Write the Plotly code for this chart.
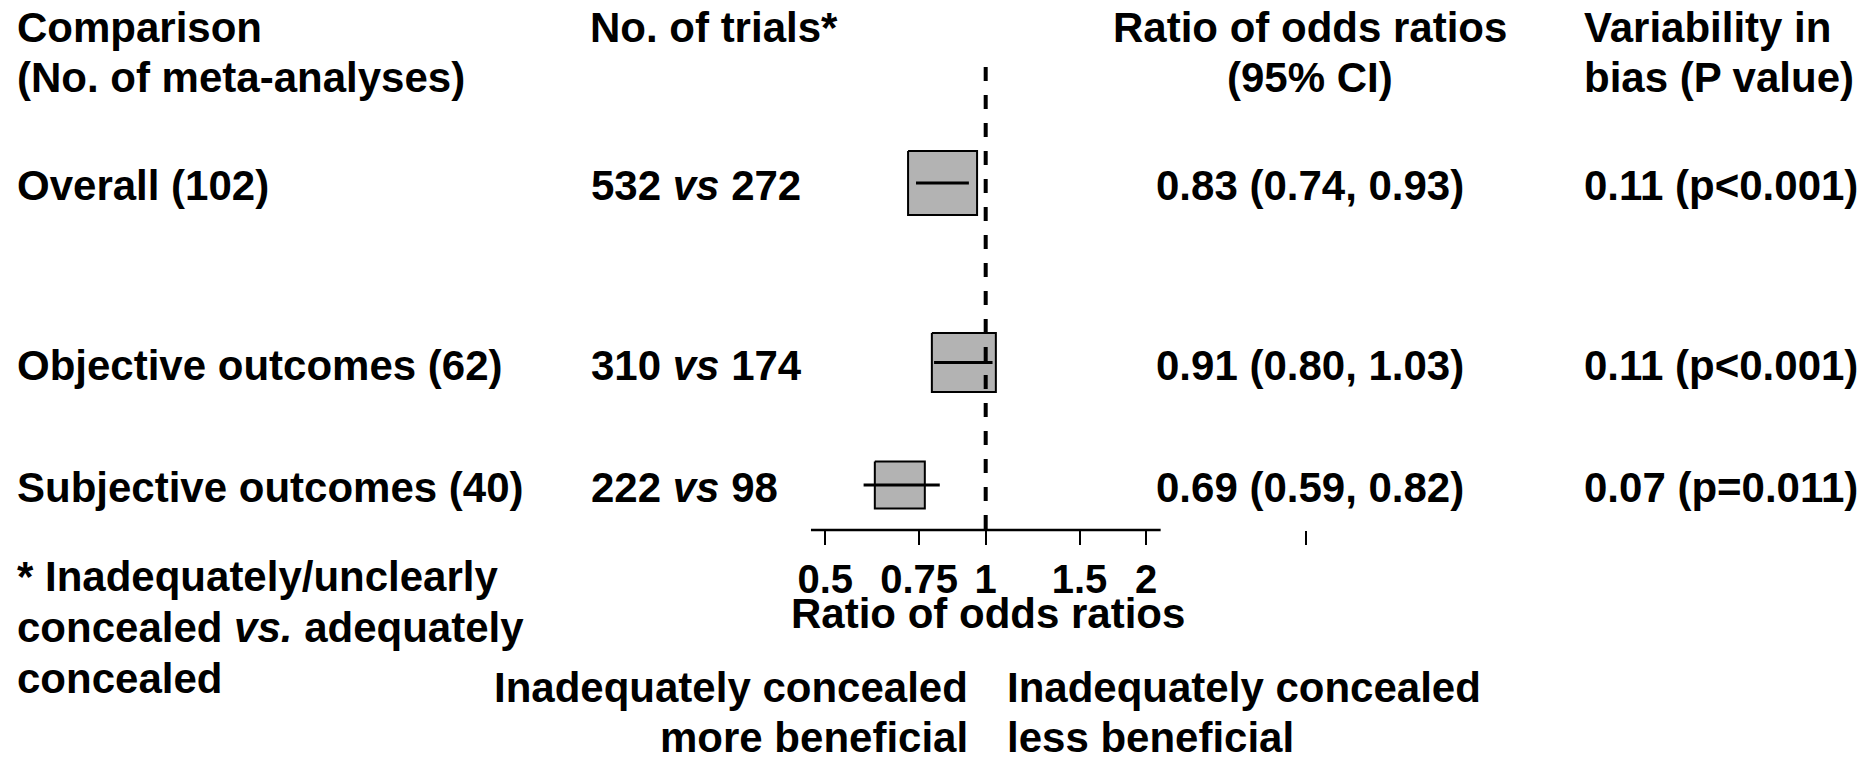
import math
import plotly.graph_objects as go

# ---------------- data ----------------
names = ["Overall", "Objective outcomes", "Subjective outcomes"]
n_meta = [102, 62, 40]
trials_inadequate = [532, 310, 222]
trials_adequate = [272, 174, 98]
ror = [0.83, 0.91, 0.69]
ci_low = [0.74, 0.80, 0.59]
ci_high = [0.93, 1.03, 0.82]
tau = [0.11, 0.11, 0.07]
p_text = ["p<0.001", "p<0.001", "p=0.011"]
tick_vals = [0.5, 0.75, 1, 1.5, 2, 4]
tick_text = ["0.5", "0.75", "1", "1.5", "2", ""]

# ---------------- layout / style ----------------
W, H = 1876, 757
FONT = "Liberation Sans, Arial, Helvetica, sans-serif"
FS = 42
row_y = [183, 362.5, 485]          # vertical centre of each row (px from top)
box_w_px = [69, 64, 50]            # box widths (px)
box_h_px = [64, 59, 47]            # box heights (px)
x_log_range = [-1.85, 1.671]       # log10 range of x axis
axis_y = 530
axis_extent = [0.47, 2.13]
dash_top = 67

px_per_ln = W / ((x_log_range[1] - x_log_range[0]) * math.log(10))

fig = go.Figure()

# boxes
for i in range(len(names)):
    hw = (box_w_px[i] / 2) / px_per_ln
    hh = box_h_px[i] / 2
    x0 = ror[i] * math.exp(-hw)
    x1 = ror[i] * math.exp(hw)
    y0 = row_y[i] - hh
    y1 = row_y[i] + hh
    fig.add_trace(go.Scatter(
        x=[x0, x1, x1, x0, x0], y=[y0, y0, y1, y1, y0],
        mode="lines", fill="toself", fillcolor="#b3b3b3",
        line=dict(color="black", width=2), hoverinfo="skip"))

# CI whiskers
for i in range(len(names)):
    fig.add_trace(go.Scatter(
        x=[ci_low[i], ci_high[i]], y=[row_y[i], row_y[i]],
        mode="lines", line=dict(color="black", width=3), hoverinfo="skip"))

# axis line
fig.add_trace(go.Scatter(
    x=axis_extent, y=[axis_y, axis_y], mode="lines",
    line=dict(color="black", width=2.5), hoverinfo="skip"))

# null line
fig.add_trace(go.Scatter(
    x=[1, 1], y=[dash_top, axis_y], mode="lines",
    line=dict(color="black", width=4, dash="14px,14px"), hoverinfo="skip"))


def ann(text, x, baseline, anchor="left", size=FS):
    fig.add_annotation(
        text=text, x=x / W, y=1 - (baseline - 0.3465 * size) / H,
        xref="paper", yref="paper", xanchor=anchor, yanchor="middle",
        showarrow=False, align=anchor if anchor != "center" else "center",
        font=dict(family=FONT, size=size, color="black", weight="bold"),
        borderpad=0)


# headers
ann("Comparison", 16, 42.5)
ann("(No. of meta-analyses)", 16, 92.5)
ann("No. of trials*", 589, 42.5)
ann("Ratio of odds ratios", 1310, 42.5, "center")
ann("(95% CI)", 1310, 92.5, "center")
ann("Variability in", 1583, 42.5)
ann("bias (P value)", 1583, 92.5)

# rows
for i in range(len(names)):
    bl = row_y[i] + 17.5
    ann(f"{names[i]} ({n_meta[i]})", 16, bl)
    ann(f"{trials_inadequate[i]} <i>vs</i> {trials_adequate[i]}", 590, bl)
    ann(f"{ror[i]:.2f} ({ci_low[i]:.2f}, {ci_high[i]:.2f})", 1310, bl, "center")
    ann(f"{tau[i]:.2f} ({p_text[i]})", 1583, bl)

# footnote
ann("* Inadequately/unclearly", 16, 591.5)
ann("concealed <i>vs.</i> adequately", 16, 642)
ann("concealed", 16, 693)

# axis title & direction labels
ann("Ratio of odds ratios", 988, 628, "center")
ann("Inadequately concealed", 969, 702.5, "right")
ann("more beneficial", 969, 752, "right")
ann("Inadequately concealed", 1006, 702.5, "left")
ann("less beneficial", 1006, 752, "left")

fig.update_layout(
    width=W, height=H, autosize=False,
    margin=dict(l=0, r=0, t=0, b=0, pad=0),
    paper_bgcolor="white", plot_bgcolor="white",
    showlegend=False, hovermode=False,
    xaxis=dict(type="log", range=x_log_range, domain=[0, 1],
               anchor="free", position=1 - axis_y / H,
               showline=False, showgrid=False, zeroline=False,
               ticks="outside", ticklen=14, tickwidth=2, tickcolor="black",
               tickvals=tick_vals, ticktext=tick_text,
               ticklabelstandoff=0,
               tickfont=dict(family=FONT, size=40, color="black", weight="bold"),
               fixedrange=True),
    yaxis=dict(range=[H, 0], domain=[0, 1], visible=False, fixedrange=True),
)

fig.write_html("out.html", config={"displayModeBar": False})
